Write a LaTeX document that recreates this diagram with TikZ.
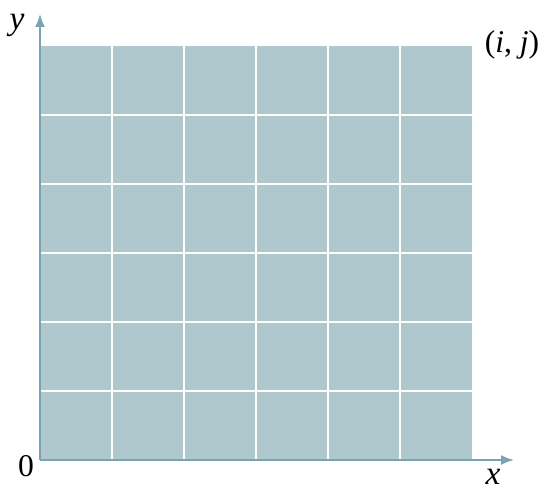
\documentclass[tikz,border=0pt]{standalone}
\usepackage{fontspec}
\setmainfont{Liberation Serif}
\usepackage{xcolor}
\usetikzlibrary{arrows.meta}
\definecolor{cellblue}{RGB}{174,200,206}
\definecolor{axisblue}{RGB}{122,163,178}
\tikzset{
  axis/.style={draw=axisblue, line width=1pt, -{Latex[length=0.26cm,width=0.2cm]}},
  gridline/.style={draw=white, line width=1.2pt},
  lbl/.style={font=\fontsize{18}{21}\selectfont, inner sep=0pt},
  biglbl/.style={font=\fontsize{19}{22}\selectfont, inner sep=0pt}
}
\begin{document}
\begin{tikzpicture}
            \useasboundingbox (0,0) rectangle (11,9.92);
            \coordinate (o) at (0.8,0.72);
            \coordinate (c) at (9.44,9.0);
            \coordinate (ytop) at (0.8,9.64);
            \coordinate (xend) at (10.28,0.72);

            \fill[cellblue] (o) rectangle (c);
            \foreach \i in {1,...,5} {
                \draw[gridline] (0.8+1.44*\i,0.72) -- (0.8+1.44*\i,9.0);
                \draw[gridline] (0.8,0.72+1.38*\i) -- (9.44,0.72+1.38*\i);
            }

            \draw[axis] (o) -- (ytop);
            \draw[axis] (o) -- (xend);

            \node[biglbl] (ylab) at (0.34,9.42) {\itshape y};
            \node[biglbl, font=\fontsize{18}{21}\selectfont] (zero) at (0.52,0.6) {0};
            \node[biglbl] (xlab) at (9.86,0.38) {\itshape x};
            \node[lbl] (ij) at (10.24,9.02) {(\textit{i}, \textit{j})};
        \end{tikzpicture}
\end{document}
